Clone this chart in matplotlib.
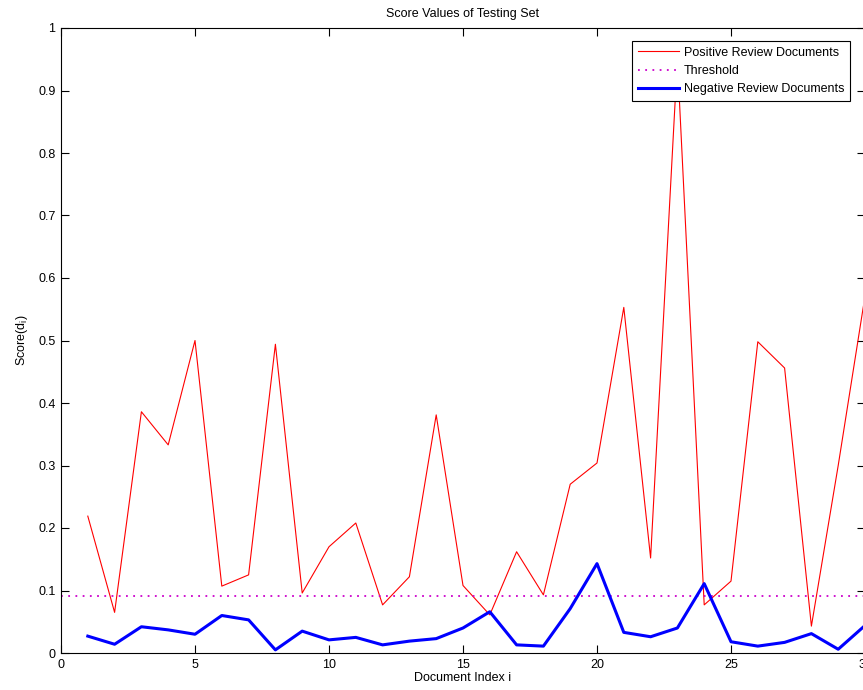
import matplotlib
matplotlib.use("Agg")
import matplotlib.pyplot as plt
import numpy as np

doc_index = np.arange(1, 31)

positive_scores = [0.219, 0.065, 0.386, 0.333, 0.500, 0.107, 0.125, 0.494, 0.096, 0.170,
                   0.208, 0.077, 0.122, 0.381, 0.108, 0.061, 0.162, 0.093, 0.270, 0.304,
                   0.553, 0.152, 0.950, 0.077, 0.115, 0.498, 0.456, 0.043, 0.300, 0.571]

negative_scores = [0.027, 0.014, 0.042, 0.037, 0.030, 0.060, 0.053, 0.005, 0.035, 0.021,
                   0.025, 0.013, 0.019, 0.023, 0.040, 0.066, 0.013, 0.011, 0.071, 0.143,
                   0.033, 0.026, 0.040, 0.111, 0.018, 0.011, 0.017, 0.031, 0.006, 0.044]

threshold = 0.092

plt.rcParams['font.family'] = ['Liberation Sans', 'DejaVu Sans']
plt.rcParams['font.size'] = 9

fig = plt.figure(figsize=(8.63, 6.90), dpi=100)
ax = fig.add_axes([61 / 863, 37 / 690, 804 / 863, 625 / 690])

ax.plot(doc_index, positive_scores, color='red', linewidth=0.8, label='Positive Review Documents')
ax.axhline(threshold, color='#cc00cc', linestyle=(0, (1, 3)), linewidth=1.3, label='Threshold')
ax.plot(doc_index, negative_scores, color='blue', linewidth=2.2, label='Negative Review Documents')

ax.set_xlim(0, 30)
ax.set_ylim(0, 1)
ax.set_xticks(np.arange(0, 31, 5))
ax.set_yticks(np.arange(0, 1.01, 0.1))
ax.set_yticklabels(['0', '0.1', '0.2', '0.3', '0.4', '0.5', '0.6', '0.7', '0.8', '0.9', '1'])
ax.tick_params(direction='in', length=6, width=0.8, top=True, right=True, pad=4)
for spine in ax.spines.values():
    spine.set_linewidth(0.8)

ax.set_title('Score Values of Testing Set', fontsize=9, pad=8)
ax.set_xlabel('Document Index i', labelpad=1)
ax.set_ylabel(r'Score(d$_\mathregular{i}$)', labelpad=6)

# legend box in the reference: x 629..850 px, y 41..101 px
leg = ax.legend(loc='upper right', bbox_to_anchor=((850 - 61) / 804, (653 - 41) / 625),
                bbox_transform=ax.transAxes, fancybox=False, shadow=False,
                framealpha=1, edgecolor='black', borderpad=0.45, labelspacing=0.5,
                handlelength=3.3, handletextpad=0.4, borderaxespad=0)
leg.get_frame().set_linewidth(0.8)

plt.savefig("out.png", dpi=100)
plt.close()
